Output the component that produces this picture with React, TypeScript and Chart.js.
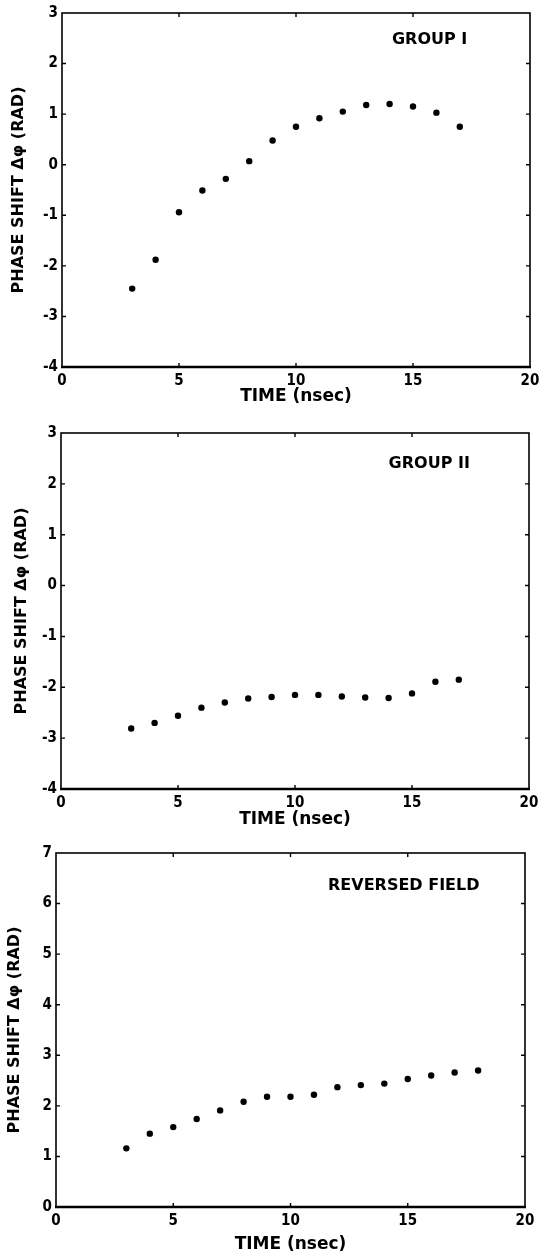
import React, { useEffect, useRef } from "react";
import { Chart, registerables } from "chart.js";

Chart.register(...registerables);

// ---- Data ----
const TIME_GROUP_I = [3, 4, 5, 6, 7, 8, 9, 10, 11, 12, 13, 14, 15, 16, 17];
const PHASE_GROUP_I = [-2.45, -1.88, -0.94, -0.51, -0.28, 0.07, 0.48, 0.75, 0.92, 1.05, 1.18, 1.2, 1.15, 1.03, 0.75];

const TIME_GROUP_II = [3, 4, 5, 6, 7, 8, 9, 10, 11, 12, 13, 14, 15, 16, 17];
const PHASE_GROUP_II = [-2.81, -2.7, -2.56, -2.4, -2.3, -2.22, -2.19, -2.15, -2.15, -2.18, -2.2, -2.21, -2.12, -1.89, -1.85];

const TIME_REVERSED = [3, 4, 5, 6, 7, 8, 9, 10, 11, 12, 13, 14, 15, 16, 17, 18];
const PHASE_REVERSED = [1.16, 1.45, 1.58, 1.74, 1.91, 2.08, 2.18, 2.18, 2.22, 2.37, 2.41, 2.44, 2.53, 2.6, 2.66, 2.7];

const X_TITLE = "TIME (nsec)";
const Y_TITLE = "PHASE SHIFT \u0394\u03c6 (RAD)";
const PANEL_LABELS = ["GROUP I", "GROUP II", "REVERSED FIELD"];
const X_RANGE = [0, 20];
const Y_RANGES = [
  [-4, 3],
  [-4, 3],
  [0, 7],
];

const TICK_FONT = "'DejaVu Sans Condensed', 'DejaVu Sans', sans-serif";
const TEXT_FONT = "'DejaVu Sans', sans-serif";

type Panel = {
  times: number[];
  values: number[];
  yRange: number[];
  label: string;
  labelX: number;
  labelY: number;
  top: number;
  left: number;
  right: number;
  areaTop: number;
  areaBottom: number;
  xTitlePad: number;
  yTitlePad: number;
};

const PANELS: Panel[] = [
  { times: TIME_GROUP_I, values: PHASE_GROUP_I, yRange: Y_RANGES[0], label: PANEL_LABELS[0], labelX: 14.1, labelY: 2.46, top: 0, left: 62, right: 530, areaTop: 10, areaBottom: 367, xTitlePad: 13, yTitlePad: 9.4 },
  { times: TIME_GROUP_II, values: PHASE_GROUP_II, yRange: Y_RANGES[1], label: PANEL_LABELS[1], labelX: 14.0, labelY: 2.4, top: 420, left: 61, right: 529, areaTop: 10, areaBottom: 369, xTitlePad: 10, yTitlePad: 12.4 },
  { times: TIME_REVERSED, values: PHASE_REVERSED, yRange: Y_RANGES[2], label: PANEL_LABELS[2], labelX: 11.6, labelY: 6.35, top: 840, left: 56, right: 525, areaTop: 10, areaBottom: 367, xTitlePad: 5, yTitlePad: 5.4 },
];

const W = 545;
const H = 420;

const framePlugin = {
  id: "frame",
  afterDraw(chart: any, _args: any, opts: any) {
    const { ctx, chartArea: a, scales } = chart;
    const xs = scales.x;
    const ys = scales.y;
    ctx.save();
    ctx.strokeStyle = "#000";
    ctx.lineWidth = 1.6;
    ctx.strokeRect(a.left, a.top, a.right - a.left, a.bottom - a.top);
    ctx.lineWidth = 2.6;
    ctx.beginPath();
    ctx.moveTo(a.left - 1, a.bottom);
    ctx.lineTo(a.right + 1, a.bottom);
    ctx.stroke();
    ctx.lineWidth = 1.4;
    const t = 4;
    ctx.beginPath();
    ys.ticks.forEach((tk: any) => {
      const py = ys.getPixelForValue(tk.value);
      if (Math.abs(py - a.top) < 1 || Math.abs(py - a.bottom) < 1) return;
      ctx.moveTo(a.left, py);
      ctx.lineTo(a.left + t, py);
      ctx.moveTo(a.right, py);
      ctx.lineTo(a.right - t, py);
    });
    xs.ticks.forEach((tk: any) => {
      const px = xs.getPixelForValue(tk.value);
      if (Math.abs(px - a.left) < 1 || Math.abs(px - a.right) < 1) return;
      ctx.moveTo(px, a.bottom);
      ctx.lineTo(px, a.bottom - t);
      ctx.moveTo(px, a.top);
      ctx.lineTo(px, a.top + t);
    });
    ctx.stroke();
    ctx.fillStyle = "#000";
    ctx.font = `bold 16px ${TEXT_FONT}`;
    ctx.textAlign = "left";
    ctx.textBaseline = "middle";
    ctx.fillText(opts.text, xs.getPixelForValue(opts.x), ys.getPixelForValue(opts.y));
    ctx.restore();
  },
};

function PanelChart({ panel }: { panel: Panel }) {
  const ref = useRef<HTMLCanvasElement>(null);
  useEffect(() => {
    if (!ref.current) return;
    const chart = new Chart(ref.current, {
      type: "scatter",
      data: {
        datasets: [
          {
            data: panel.times.map((t, i) => ({ x: t, y: panel.values[i] })),
            pointRadius: 3.2,
            pointBackgroundColor: "#000",
            pointBorderWidth: 0,
            showLine: false,
          },
        ],
      },
      plugins: [framePlugin],
      options: {
        animation: false,
        responsive: false,
        devicePixelRatio: 1,
        layout: { padding: { left: 0, top: panel.areaTop, right: W - panel.right, bottom: 0 } },
        plugins: {
          legend: { display: false },
          tooltip: { enabled: false },
          frame: { text: panel.label, x: panel.labelX, y: panel.labelY },
        } as any,
        scales: {
          x: {
            type: "linear",
            min: X_RANGE[0],
            max: X_RANGE[1],
            grid: { display: false, drawTicks: false },
            border: { display: false },
            ticks: {
              stepSize: 5,
              padding: 5,
              color: "#000",
              font: { family: TICK_FONT, size: 15, weight: "bold" },
            },
            title: {
              display: true,
              text: X_TITLE,
              color: "#000",
              font: { family: TEXT_FONT, size: 17, weight: "bold" },
              padding: { top: 0, bottom: panel.xTitlePad },
            },
            afterFit: (s: any) => {
              s.height = H - panel.areaBottom;
            },
          },
          y: {
            type: "linear",
            min: panel.yRange[0],
            max: panel.yRange[1],
            grid: { display: false, drawTicks: false },
            border: { display: false },
            ticks: {
              stepSize: 1,
              padding: 4,
              color: "#000",
              font: { family: TICK_FONT, size: 15, weight: "bold" },
            },
            title: {
              display: true,
              text: Y_TITLE,
              color: "#000",
              font: { family: TEXT_FONT, size: 16, weight: "bold" },
              padding: { top: panel.yTitlePad, bottom: 0 },
            },
            afterFit: (s: any) => {
              s.width = panel.left;
            },
          },
        },
      },
    });
    return () => chart.destroy();
  }, [panel]);
  return (
    <canvas
      ref={ref}
      width={W}
      height={H}
      style={{ position: "absolute", left: 0, top: panel.top, width: W, height: H, display: "block" }}
    />
  );
}

export default function App() {
  return (
    <div style={{ position: "absolute", left: 0, top: 0, width: W, height: 1260, background: "#fff" }}>
      {PANELS.map((p, i) => (
        <PanelChart key={i} panel={p} />
      ))}
    </div>
  );
}
